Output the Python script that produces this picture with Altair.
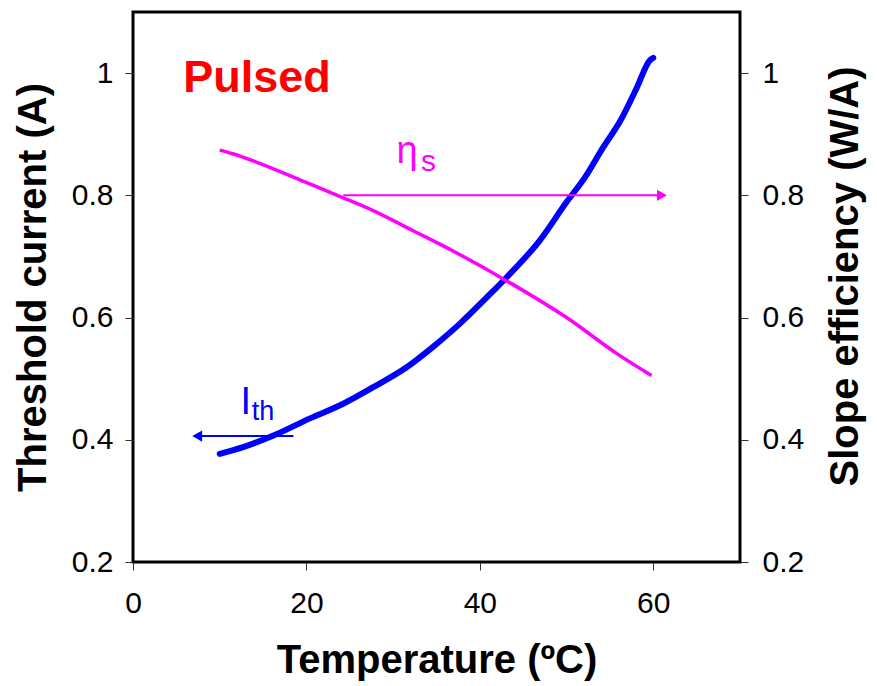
import altair as alt
import pandas as pd

# Threshold current (A) vs temperature
ith_T = [10.0, 12.7, 16.2, 20.4, 24.25, 27.7, 31.6, 34.6, 37.7, 40.8, 43.1, 46.9, 50.0, 52.1, 54.2, 56.2, 58.1, 59.6, 60.0]
ith_v = [0.377, 0.388, 0.407, 0.435, 0.459, 0.486, 0.519, 0.552, 0.590, 0.633, 0.666, 0.726, 0.789, 0.829, 0.878, 0.922, 0.976, 1.021, 1.025]

# Slope efficiency (W/A) vs temperature
eta_T = [10.0, 11.5, 14.3, 19.3, 24.25, 27.7, 32.3, 36.9, 43.1, 50.0, 55.8, 59.8]
eta_v = [0.874, 0.868, 0.854, 0.825, 0.796, 0.775, 0.742, 0.709, 0.660, 0.600, 0.541, 0.505]

# arrows (x start, x end, y)
eta_arrow_x = [24.25, 61.0]
eta_arrow_y = [0.8, 0.8]
ith_arrow_x = [18.5, 7.4]
ith_arrow_y = [0.406, 0.406]

FONT = "Liberation Sans"
BLUE = "#0000FF"
PINK = "#FF00FF"

xdom = [0, 70]
ydom = [0.2, 1.1]

df_ith = pd.DataFrame({"T": ith_T, "v": ith_v})
df_eta = pd.DataFrame({"T": eta_T, "v": eta_v})


def xenc():
    return alt.X("T:Q", scale=alt.Scale(domain=xdom, nice=False, zero=False),
                 axis=alt.Axis(title="Temperature (ºC)", values=[0, 20, 40, 60],
                               grid=False, domain=False, tickSize=8, tickColor="#333333",
                               labelFontSize=30, labelPadding=18, labelColor="black",
                               labelFlush=False,
                               titleFontSize=40, titleFontWeight="bold", titlePadding=22,
                               titleColor="black", labelFont=FONT, titleFont=FONT))


def yscale():
    return alt.Scale(domain=ydom, nice=False, zero=False)


left_axis = alt.Axis(title="Threshold current (A)", values=[0.2, 0.4, 0.6, 0.8, 1.0],
                     format="~g", grid=False, domain=False, tickSize=8, tickColor="#333333",
                     labelFontSize=30, labelPadding=12, labelColor="black", labelFlush=False,
                     titleFontSize=40, titleFontWeight="bold", titlePadding=18,
                     titleColor="black", labelFont=FONT, titleFont=FONT)

right_axis = alt.Axis(title="Slope efficiency (W/A)", orient="right",
                      values=[0.2, 0.4, 0.6, 0.8, 1.0],
                      format="~g", grid=False, domain=False, tickSize=8, tickColor="#333333",
                      labelFontSize=30, labelPadding=14, labelColor="black", labelFlush=False,
                      titleFontSize=40, titleFontWeight="bold", titlePadding=22,
                      titleAngle=270, titleBaseline="top", titleY=264,
                      titleColor="black", labelFont=FONT, titleFont=FONT)

ith_line = alt.Chart(df_ith).mark_line(color=BLUE, strokeWidth=6, strokeCap="round",
                                       strokeJoin="round", interpolate="monotone").encode(
    x=xenc(), y=alt.Y("v:Q", scale=yscale(), axis=left_axis))

eta_line = alt.Chart(df_eta).mark_line(color=PINK, strokeWidth=3.5, strokeJoin="round",
                                       interpolate="monotone").encode(
    x=xenc(), y=alt.Y("v:Q", scale=yscale(), axis=right_axis))

df_ea = pd.DataFrame({"T": eta_arrow_x, "v": eta_arrow_y})
df_ia = pd.DataFrame({"T": ith_arrow_x, "v": ith_arrow_y})

eta_arrow = alt.Chart(df_ea).mark_line(color=PINK, strokeWidth=2).encode(
    x=xenc(), y=alt.Y("v:Q", scale=yscale(), axis=None))
eta_head = alt.Chart(df_ea.iloc[[1]]).mark_point(shape="triangle-right", filled=True, color=PINK,
                                                 size=130, opacity=1).encode(
    x=xenc(), y=alt.Y("v:Q", scale=yscale(), axis=None))
ith_arrow = alt.Chart(df_ia).mark_line(color=BLUE, strokeWidth=2).encode(
    x=xenc(), y=alt.Y("v:Q", scale=yscale(), axis=None))
ith_head = alt.Chart(df_ia.iloc[[1]]).mark_point(shape="triangle-left", filled=True, color=BLUE,
                                                 size=130, opacity=1).encode(
    x=xenc(), y=alt.Y("v:Q", scale=yscale(), axis=None))

# text labels
lab_text = ["Pulsed", "η", "s", "I", "th"]
lab_T = [5.8, 30.4, 33.2, 12.4, 13.7]
lab_v = [0.969, 0.853, 0.840, 0.443, 0.432]
lab_size = [45, 38, 30, 38, 27]
lab_weight = ["bold", "normal", "normal", "normal", "normal"]
lab_color = ["#FF0000", PINK, PINK, BLUE, BLUE]
df_lab = pd.DataFrame({"t": lab_text, "T": lab_T, "v": lab_v, "s": lab_size,
                       "w": lab_weight, "c": lab_color})

labels = alt.layer(*[
    alt.Chart(df_lab.iloc[[i]]).mark_text(align="left", baseline="alphabetic", font=FONT,
                                          fontSize=int(df_lab.s[i]), fontWeight=df_lab.w[i],
                                          color=df_lab.c[i]).encode(
        x=xenc(), y=alt.Y("v:Q", scale=yscale(), axis=None), text="t:N")
    for i in range(len(df_lab))
])

chart = alt.layer(ith_line, eta_line, eta_arrow, eta_head, ith_arrow, ith_head, labels).resolve_scale(
    y="independent").properties(
    width=607, height=550,
    autosize=alt.AutoSizeParams(type="none"),
    padding={"left": 125, "top": 4, "right": 129, "bottom": 124},
    background="white",
).configure_view(stroke="black", strokeWidth=3)

chart.save("out.html", embed_options={"renderer": "svg", "actions": False})
